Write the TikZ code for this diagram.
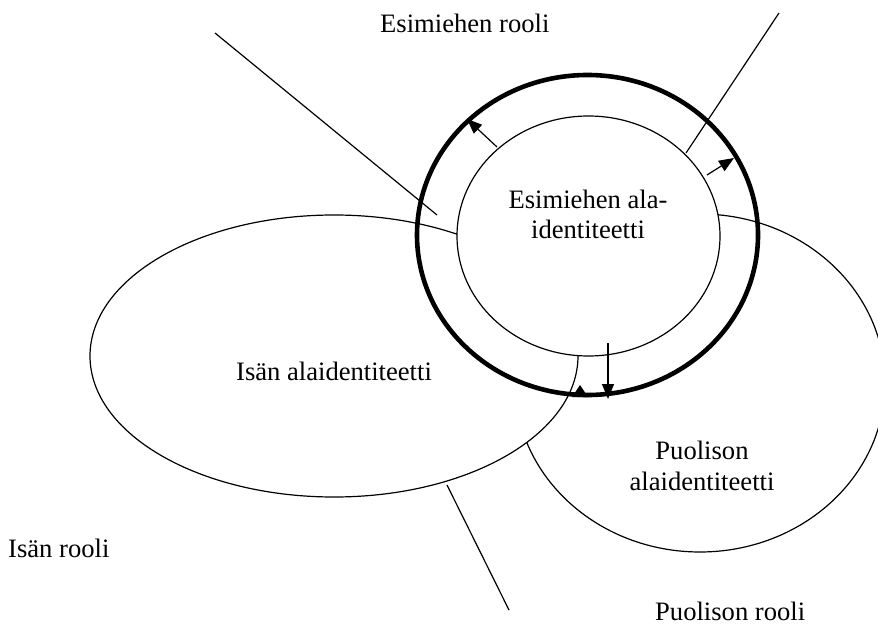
\documentclass[tikz,border=0pt]{standalone}
\usepackage{fontspec}
\setmainfont{Liberation Serif}
\usetikzlibrary{arrows.meta,shapes.geometric}
\begin{document}
\begin{tikzpicture}[x=1pt,y=-1pt,
  txt/.style={font=\fontsize{26.6}{31}\selectfont, inner sep=0pt},
  subid/.style={ellipse, draw=black, line width=1.2pt, fill=white, inner sep=0pt},
  ring/.style={ellipse, draw=black, line width=4.6pt, inner sep=0pt},
  thin/.style={draw=black, line width=1.2pt},
  arr/.style={thin, -{Triangle[length=15pt,width=12pt]}}]
\useasboundingbox (0,0) rectangle (878,631);
\fill[white] (0,0) rectangle (878,631);

% sub-identities, back to front
\node[subid, minimum width=370, minimum height=338] (spouse) at (700,383) {};
\node[subid, minimum width=488, minimum height=282] (father) at (334,356) {};
\node[subid, minimum width=263, minimum height=240] (boss) at (588.5,236) {};
% role boundary of the supervisor
\node[ring, minimum width=341, minimum height=320] (bossrole) at (587.5,235) {};

% end points of the role connectors
\coordinate (r1a) at (215,33);
\coordinate (r1b) at (437,215);
\coordinate (r2a) at (779,13);
\coordinate (r2b) at (686,153);
\coordinate (r3a) at (447,485);
\coordinate (r3b) at (509,610);
\draw[thin] (r1a) -- (r1b);
\draw[thin] (r2a) -- (r2b);
\draw[thin] (r3a) -- (r3b);

% pressure arrows from the sub-identity to the role
\coordinate (p1a) at (497,147);
\coordinate (p1b) at (467,119);
\coordinate (p2a) at (707,175);
\coordinate (p2b) at (734,158);
\coordinate (p3a) at (608,343);
\coordinate (p3b) at (608,399);
\draw[arr] (p1a) -- (p1b);
\draw[arr] (p2a) -- (p2b);
\draw[arr] (p3a) -- (p3b);
\fill (580,385) -- (588,397) -- (572,397) -- cycle;

% texts
\node[txt, anchor=base west] (t1) at (380,33) {Esimiehen rooli};
\node[txt, anchor=base] (t2) at (588,208) {Esimiehen ala-};
\node[txt, anchor=base] (t3) at (588,239) {identiteetti};
\node[txt, anchor=base] (t4) at (334,380) {Isän alaidentiteetti};
\node[txt, anchor=base] (t5) at (702,459) {Puolison};
\node[txt, anchor=base] (t6) at (702,490) {alaidentiteetti};
\node[txt, anchor=base west] (t7) at (8,557) {Isän rooli};
\node[txt, anchor=base west] (t8) at (655,620) {Puolison rooli};
\end{tikzpicture}
\end{document}
